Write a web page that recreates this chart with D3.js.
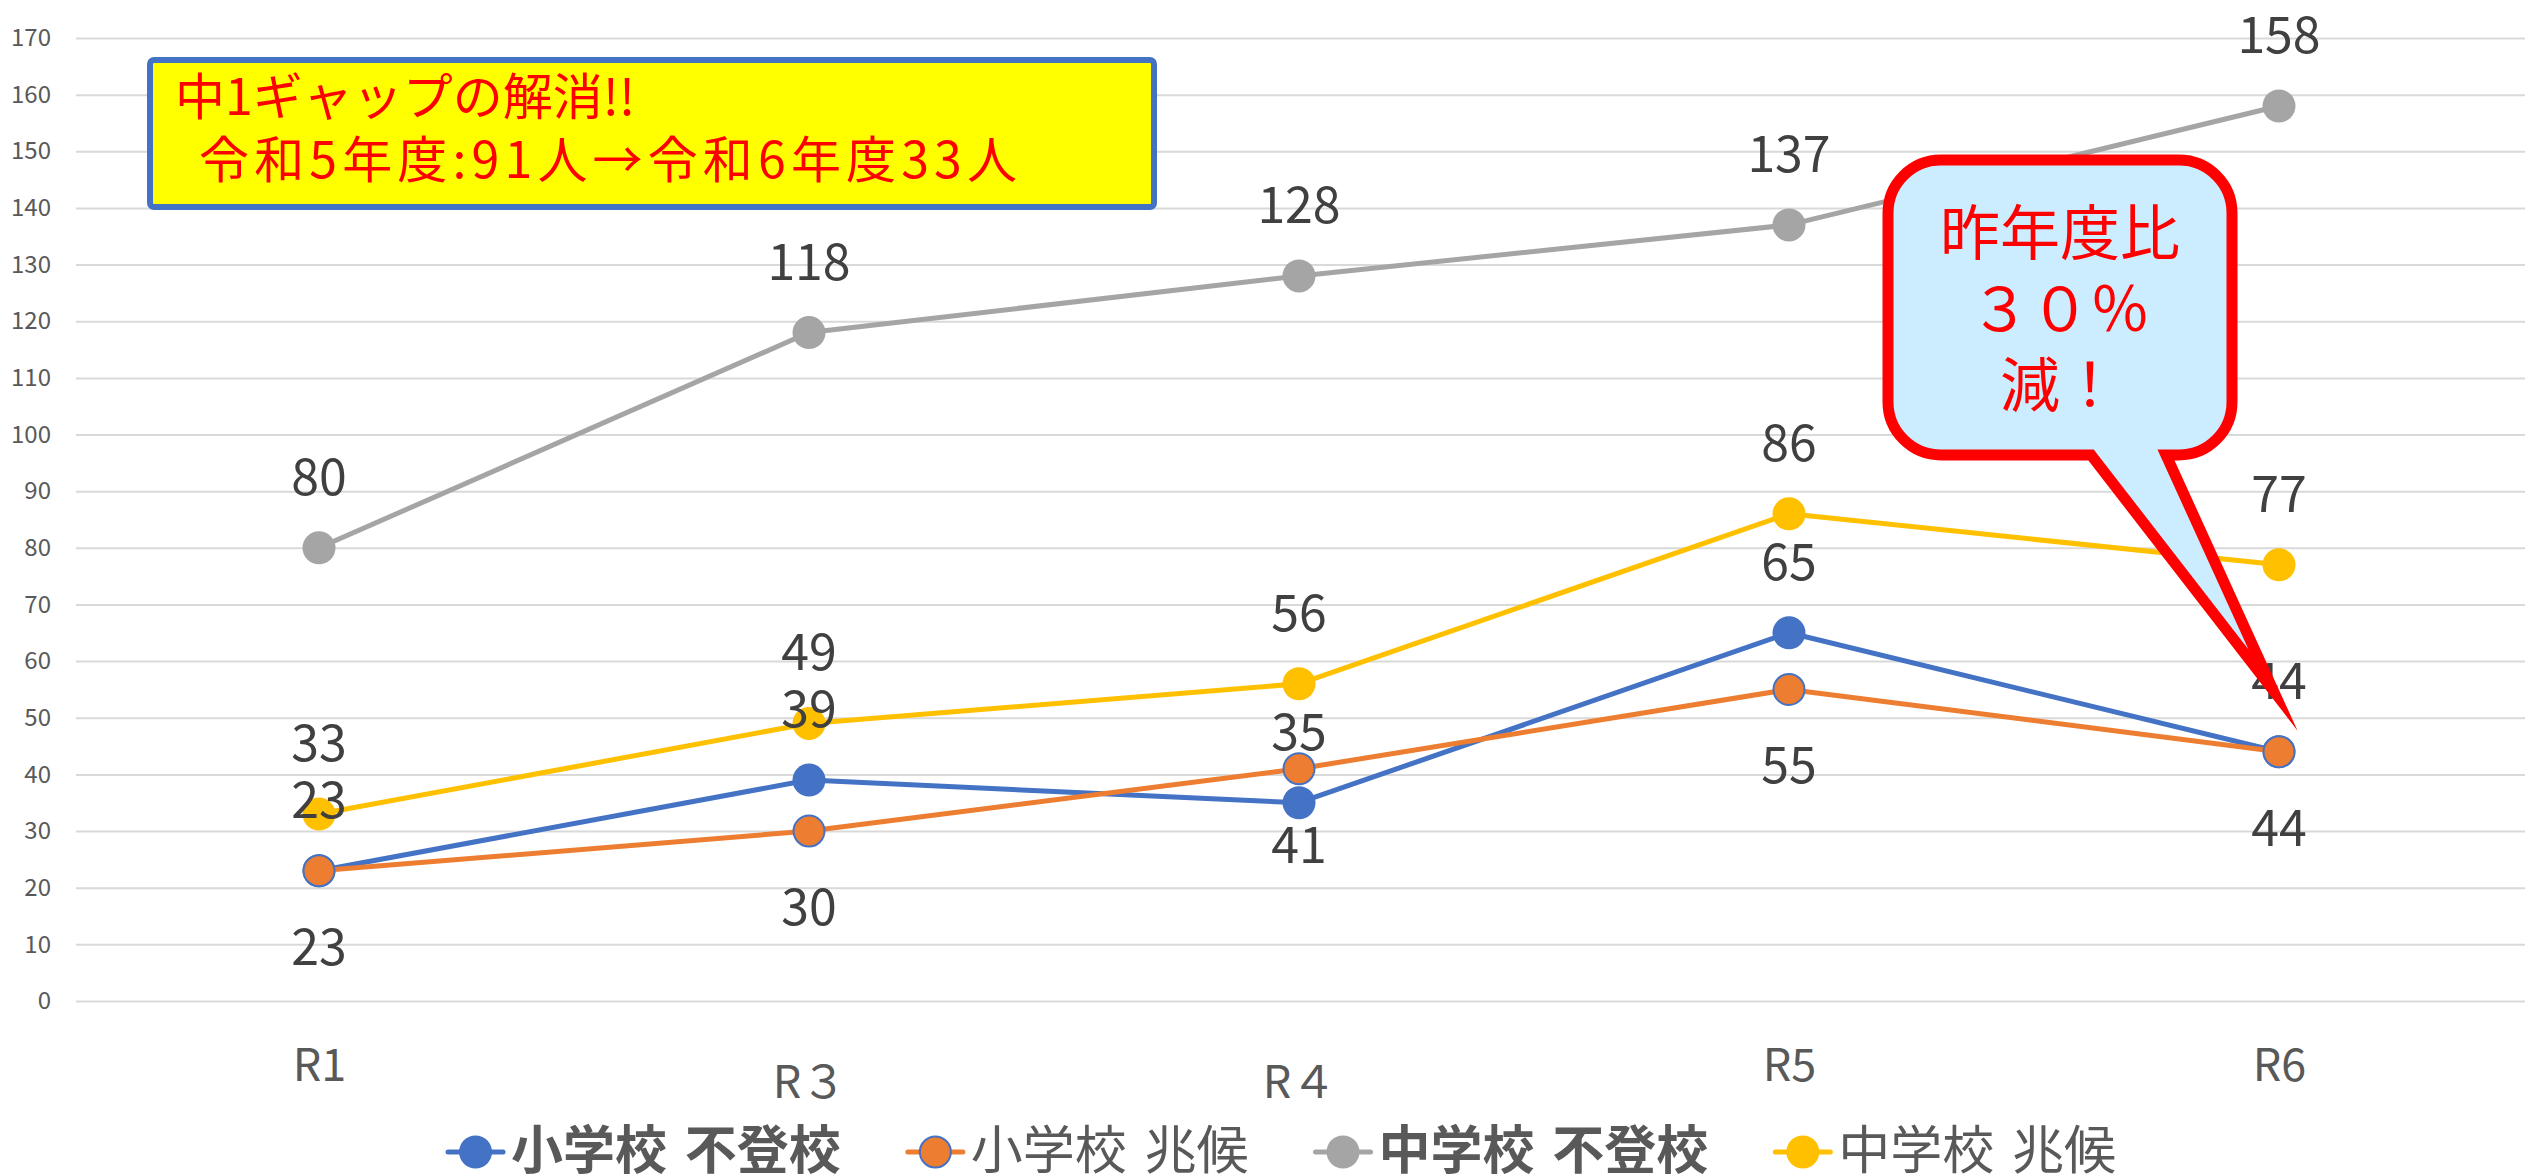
<!DOCTYPE html>
<html>
<head>
<meta charset="utf-8">
<script src="https://cdn.jsdelivr.net/npm/d3@7"></script>
<style>
  body { margin: 0; background: #fff; }
  text { font-family: "Noto Sans CJK JP", "Noto Sans", sans-serif; }
</style>
</head>
<body>
<div id="chart"></div>
<script>
// data
var categories = ["R1", "R３", "R４", "R5", "R6"];
var elemAbsent = [23, 39, 35, 65, 44];      // 小学校 不登校
var elemSigns = [23, 30, 41, 55, 44];       // 小学校 兆候
var juniorAbsent = [80, 118, 128, 137, 158]; // 中学校 不登校
var juniorSigns = [33, 49, 56, 86, 77];     // 中学校 兆候
var yTicks = d3.range(0, 171, 10);

var series = [
  {name: "小学校 不登校", values: elemAbsent, color: "#4472C4", bold: true, label: "above"},
  {name: "小学校 兆候", values: elemSigns, color: "#ED7D31", bold: false, label: "below", ring: "#4472C4"},
  {name: "中学校 不登校", values: juniorAbsent, color: "#A5A5A5", bold: true, label: "above"},
  {name: "中学校 兆候", values: juniorSigns, color: "#FFC000", bold: false, label: "above"}
];

var w_width = 2529, w_height = 1175;
var plot = {left: 74, right: 2524, top: 38, bottom: 1001};

var svg = d3.select("#chart").append("svg")
    .attr("width", w_width)
    .attr("height", w_height);

var x = d3.scalePoint().domain(categories).range([plot.left, plot.right]).padding(0.5),
    y = d3.scaleLinear().domain([0, 170]).range([plot.bottom, plot.top]);

// gridlines + y labels
var yAxis = svg.append("g")
    .attr("transform", "translate(76,0)")
    .call(d3.axisLeft(y).tickValues(yTicks).tickSize(-(2525 - 76)).tickPadding(25));
yAxis.select(".domain").remove();
yAxis.selectAll(".tick line").attr("stroke", "#D9D9D9").attr("stroke-width", 2);
yAxis.selectAll(".tick text")
    .attr("fill", "#595959")
    .style("font-size", "24px")
    .style("font-family", "'Noto Sans CJK JP', sans-serif");

// category labels
var xAxis = svg.append("g")
    .attr("transform", "translate(0," + plot.bottom + ")")
    .call(d3.axisBottom(x).tickSize(0).tickPadding(48));
xAxis.select(".domain").remove();
xAxis.selectAll(".tick text")
    .attr("fill", "#595959")
    .style("font-size", "45px")
    .style("font-family", "'Noto Sans CJK JP', sans-serif")
    .attr("dy", function(d) { return /[０-９]/.test(d) ? "1.09em" : "0.71em"; });

var line = d3.line()
    .x(function(d, i) { return x(categories[i]); })
    .y(function(d) { return y(d); });

var marks = svg.append("g");
series.forEach(function(s) {
  var g = marks.append("g");
  g.append("path")
      .datum(s.values)
      .attr("fill", "none")
      .attr("stroke", s.color)
      .attr("stroke-width", 5)
      .attr("stroke-linejoin", "round")
      .attr("d", line);
  g.selectAll("circle")
      .data(s.values)
    .enter().append("circle")
      .attr("cx", function(d, i) { return x(categories[i]); })
      .attr("cy", function(d) { return y(d); })
      .attr("r", s.ring ? 15.5 : 16.5)
      .attr("fill", s.color)
      .attr("stroke", s.ring || "none")
      .attr("stroke-width", 2);
});

// data labels
var labels = svg.append("g");
series.forEach(function(s) {
  labels.selectAll(null)
      .data(s.values)
    .enter().append("text")
      .attr("x", function(d, i) { return x(categories[i]); })
      .attr("y", function(d) { return y(d) + (s.label === "above" ? -75 : 72); })
      .attr("text-anchor", "middle")
      .attr("dominant-baseline", "central")
      .attr("fill", "#404040")
      .style("font-size", "50px")
      .text(function(d) { return d; });
});

// legend
var legend = svg.append("g");
var lx = 0;
series.forEach(function(s, i) {
  var item = legend.append("g").attr("transform", "translate(" + lx + ",0)");
  item.append("line")
      .attr("x1", 0).attr("x2", 55).attr("y1", 1152).attr("y2", 1152)
      .attr("stroke", s.color).attr("stroke-width", 5).attr("stroke-linecap", "round");
  item.append("circle")
      .attr("cx", 27.5).attr("cy", 1152)
      .attr("r", s.ring ? 15.5 : 16.5)
      .attr("fill", s.color)
      .attr("stroke", s.ring || "none")
      .attr("stroke-width", 2);
  var t = item.append("text")
      .attr("x", 63).attr("y", 1146)
      .attr("dominant-baseline", "central")
      .attr("fill", "#595959")
      .style("font-size", "52px")
      .style("font-weight", s.bold ? "bold" : "normal")
      .style("word-spacing", "6px")
      .text(s.name);
  lx += 63 + t.node().getComputedTextLength() + 67;
});
var legendWidth = lx - 67;
legend.attr("transform", "translate(" + (1282 - legendWidth / 2) + ",0)");

// yellow note box
var note = svg.append("g");
note.append("rect")
    .attr("x", 150).attr("y", 60).attr("width", 1004).attr("height", 147)
    .attr("rx", 4)
    .attr("fill", "#FFFF00")
    .attr("stroke", "#4472C4")
    .attr("stroke-width", 6);
note.append("text")
    .attr("x", 175).attr("y", 115)
    .attr("fill", "#FF0000")
    .style("font-size", "50px")
    .text("中1ギャップの解消!!");
note.append("text")
    .attr("x", 199).attr("y", 178)
    .attr("fill", "#FF0000")
    .style("font-size", "50px")
    .attr("textLength", 818)
    .attr("lengthAdjust", "spacing")
    .text("令和5年度:91人→令和6年度33人");

// speech bubble
var L = 1888, R = 2232, T = 160, B = 455, r = 53;
var p = d3.path();
p.moveTo(L + r, T);
p.lineTo(R - r, T);
p.arcTo(R, T, R, T + r, r);
p.lineTo(R, B - r);
p.arcTo(R, B, R - r, B, r);
p.lineTo(2166, B);
p.lineTo(2273, 690);
p.lineTo(2091, B);
p.lineTo(L + r, B);
p.arcTo(L, B, L, B - r, r);
p.lineTo(L, T + r);
p.arcTo(L, T, L + r, T, r);
p.closePath();

var bubble = svg.append("g");
bubble.append("path")
    .attr("d", p.toString())
    .attr("fill", "#CCECFF")
    .attr("stroke", "#FF0000")
    .attr("stroke-width", 11)
    .attr("stroke-linejoin", "miter")
    .attr("stroke-miterlimit", 20);
bubble.selectAll("text")
    .data(["昨年度比", "３０％", "減！"])
  .enter().append("text")
    .attr("x", (L + R) / 2)
    .attr("y", function(d, i) { return 228 + i * 76; })
    .attr("text-anchor", "middle")
    .attr("dominant-baseline", "central")
    .attr("fill", "#FF0000")
    .style("font-size", "60px")
    .text(function(d) { return d; });
</script>
</body>
</html>
